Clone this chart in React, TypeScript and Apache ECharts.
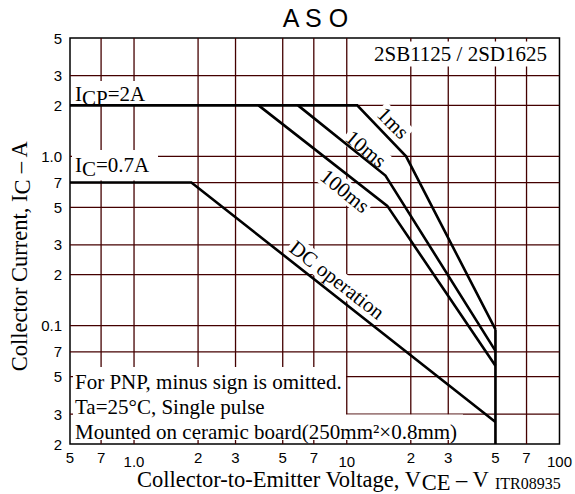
import React, { useEffect, useRef } from "react";
import * as echarts from "echarts";

// ---- axis ticks / labels ----
const xTickValues = [0.5, 0.7, 1, 2, 3, 5, 7, 10, 20, 30, 50, 70, 100];
const xTickLabels = ["5", "7", "1.0", "2", "3", "5", "7", "10", "2", "3", "5", "7", "100"];
const xMajorValues = [1, 10, 100];
const yTickValues = [0.02, 0.03, 0.05, 0.07, 0.1, 0.2, 0.3, 0.5, 0.7, 1, 2, 3, 5];
const yTickLabels = ["2", "3", "5", "7", "0.1", "2", "3", "5", "7", "1.0", "2", "3", "5"];
const xRange = [0.5, 100];
const yRange = [0.02, 5];

// ---- curves: [VCE (V), IC (A)] ----
const curve1ms = [[0.5, 2], [11.2, 2], [19, 1.0], [50, 0.095]];
const curve10ms = [[5.9, 2], [15.2, 0.77], [50, 0.071]];
const curve100ms = [[3.85, 2], [15.5, 0.51], [50, 0.058]];
const curveDC = [[0.5, 0.7], [1.86, 0.7], [50, 0.027]];
const vceoLimit = [[50, 0.095], [50, 0.02]];

const SERIF = "'Liberation Serif', 'Times New Roman', serif";
const SANS = "'Liberation Sans', Arial, sans-serif";
const GRID_COLOR = "#400";

const L = (v: number) => Math.log10(v);
const toLog = (pts: number[][]) => pts.map(([x, y]) => [L(x), L(y)]);
const nearestIdx = (v: number, values: number[]) => {
  let best = 0;
  let bd = Infinity;
  values.forEach((t, i) => {
    const d = Math.abs(L(t) - v);
    if (d < bd) {
      bd = d;
      best = i;
    }
  });
  return best;
};

const serifText = (
  text: string,
  x: number,
  y: number,
  opts: Record<string, any> = {}
) => ({
  type: "text",
  x,
  y,
  z: 4,
  rotation: opts.rotation || 0,
  style: {
    text,
    fill: "#000",
    font: `${opts.fontSize || 21}px ${SERIF}`,
    align: opts.align || "left",
    textAlign: opts.align || "left",
    verticalAlign: "middle",
    textVerticalAlign: "middle",
    backgroundColor: opts.bg ? "#fff" : undefined,
    padding: opts.padding,
    rich: opts.rich,
  },
});

const makeRich = (size: number, shift: number) => ({
  n: { fontSize: size, fontFamily: SERIF, fill: "#000", lineHeight: size },
  s: {
    fontSize: size,
    fontFamily: SERIF,
    fill: "#000",
    lineHeight: size - 2 * shift,
    padding: [2 * shift, 0, 0, 0],
  },
});
const labelRich = makeRich(21, 3.5);
const nameRich = makeRich(22.5, 3.5);

const whiteRect = (x: number, y: number, width: number, height: number) => ({
  type: "rect",
  z: 4,
  silent: true,
  shape: { x, y, width, height },
  style: { fill: "#fff", stroke: "none" },
});

export default function App() {
  const ref = useRef<HTMLDivElement>(null);
  useEffect(() => {
    if (!ref.current) return;
    const chart = echarts.init(ref.current, undefined, { renderer: "svg" });
    const lineSeries = (name: string, data: number[][], z: number, width: number, color: string) => ({
      name,
      type: "line",
      data: toLog(data),
      symbol: "none",
      showSymbol: false,
      z,
      silent: true,
      color,
      lineStyle: { color, width, join: "miter" },
    });
    const innerX = xTickValues.filter((v) => v > xRange[0] && v < xRange[1]);
    const innerY = yTickValues.filter((v) => v > yRange[0] && v < yRange[1]);
    const gridSeries = [
      ...innerX.map((v) =>
        lineSeries("gx" + v, [[v, yRange[0]], [v, yRange[1]]], 3, 1.3, GRID_COLOR)
      ),
      ...innerY.map((v) =>
        lineSeries("gy" + v, [[xRange[0], v], [xRange[1], v]], 3, 1.3, GRID_COLOR)
      ),
    ];
    chart.setOption({
      animation: false,
      backgroundColor: "#fff",
      grid: {
        left: 70,
        top: 38,
        width: 491,
        height: 406,
        show: true,
        backgroundColor: "transparent",
        borderColor: "#000",
        borderWidth: 1.5,
      },
      xAxis: {
        type: "value",
        min: L(xRange[0]),
        max: L(xRange[1]),
        axisLine: { show: false },
        axisTick: { show: false },
        splitLine: { show: false },
        axisLabel: {
          customValues: xTickValues.map(L),
          margin: 6,
          formatter: (v: number) => {
            const i = nearestIdx(v, xTickValues);
            const s = xTickLabels[i];
            return xMajorValues.includes(xTickValues[i]) ? `{b|${s}}` : `{a|${s}}`;
          },
          rich: {
            a: { fontSize: 15, fontFamily: SANS, color: "#000" },
            b: { fontSize: 15, fontFamily: SANS, color: "#000", padding: [4, 0, 0, 0] },
          },
        },
      },
      yAxis: {
        type: "value",
        min: L(yRange[0]),
        max: L(yRange[1]),
        axisLine: { show: false },
        axisTick: { show: false },
        splitLine: { show: false },
        axisLabel: {
          customValues: yTickValues.map(L),
          margin: 8,
          fontSize: 15,
          fontFamily: SANS,
          color: "#000",
          formatter: (v: number) => yTickLabels[nearestIdx(v, yTickValues)],
        },
      },
      series: [
        ...gridSeries,
        lineSeries("1ms", curve1ms, 7, 2.6, "#000"),
        lineSeries("10ms", curve10ms, 7, 2.6, "#000"),
        lineSeries("100ms", curve100ms, 7, 2.6, "#000"),
        lineSeries("DC operation", curveDC, 7, 2.6, "#000"),
        lineSeries("VCEO", vceoLimit, 7, 2.6, "#000"),
      ],
      graphic: {
        elements: [
          {
            type: "text",
            x: 315.5,
            y: 18,
            z: 4,
            style: {
              text: "A S O",
              fill: "#000",
              font: `25px ${SANS}`,
              align: "center",
              textAlign: "center",
              verticalAlign: "middle",
              textVerticalAlign: "middle",
            },
          },
          // white boxes behind the notes
          whiteRect(73, 367, 273, 73),
          whiteRect(345, 414.5, 118, 25.5),
          whiteRect(72, 81, 76, 23.5),
          whiteRect(72, 150, 86, 30.5),
          serifText("For PNP, minus sign is omitted.", 75, 382),
          serifText("Ta=25°C, Single pulse", 75, 407),
          serifText("Mounted on ceramic board(250mm²×0.8mm)", 75, 432),
          serifText("2SB1125 / 2SD1625", 460.5, 54, { align: "center", bg: true, padding: [4, 3, 0, 3] }),
          serifText("{n|I}{s|CP}{n|=2A}", 75, 94, { rich: labelRich }),
          serifText("{n|I}{s|C}{n|=0.7A}", 75, 165, { rich: labelRich }),
          serifText("1ms", 393, 123, { align: "center", bg: true, rotation: -Math.PI / 4, padding: [0, 2, 0, 2] }),
          serifText("10ms", 366, 149, { align: "center", bg: true, rotation: -40 * Math.PI / 180, padding: [0, 2, 0, 2] }),
          serifText("100ms", 345, 191, { align: "center", bg: true, rotation: -39 * Math.PI / 180, padding: [0, 2, 0, 2] }),
          serifText("DC operation", 337, 280, { align: "center", bg: true, rotation: -38 * Math.PI / 180, padding: [0, 2, 0, 2] }),
          // axis names
          serifText("{n|Collector Current, I}{s|C}{n| – A}", 19, 256, {
            align: "center",
            rotation: Math.PI / 2,
            rich: nameRich,
          }),
          serifText("{n|Collector-to-Emitter Voltage, V}{s|CE}{n| – V}", 137, 479, { rich: nameRich }),
          serifText("ITR08935", 495, 483, { fontSize: 16 }),
        ],
      },
    });
    return () => chart.dispose();
  }, []);
  return (
    <div
      ref={ref}
      style={{ position: "absolute", left: 0, top: 0, width: 575, height: 494, background: "#fff" }}
    />
  );
}
